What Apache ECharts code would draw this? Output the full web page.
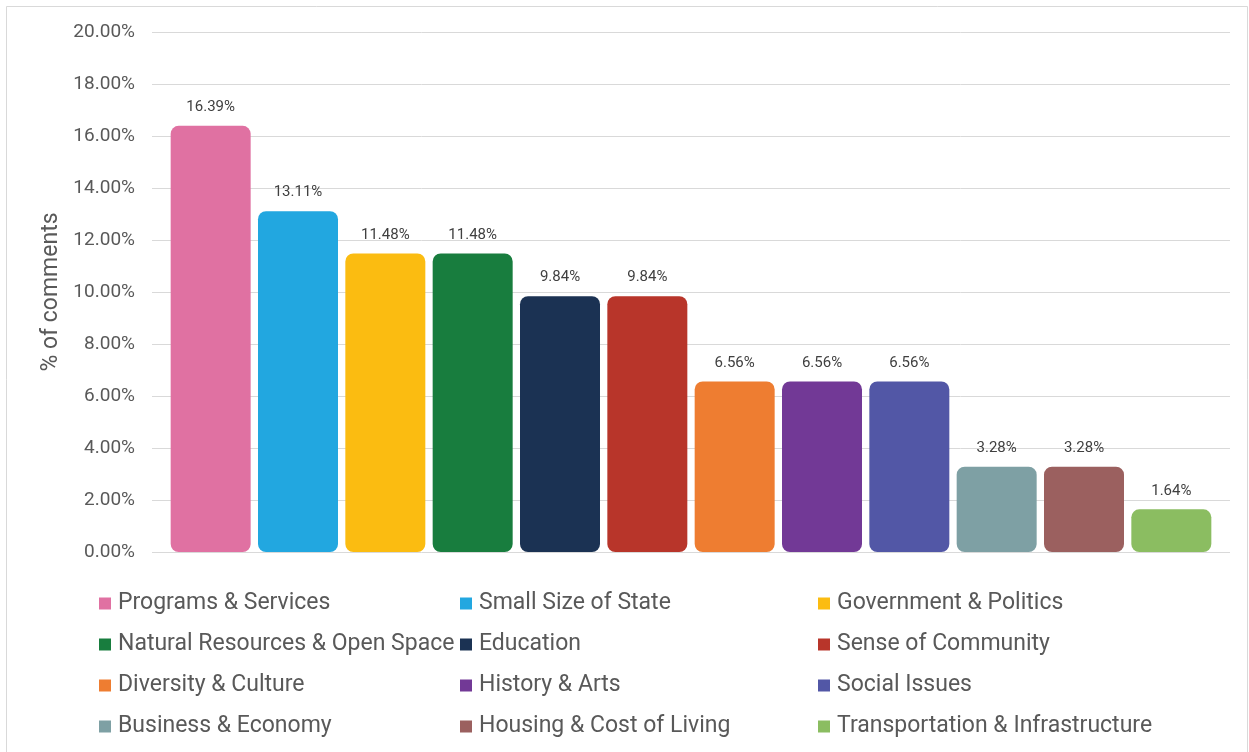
<!DOCTYPE html>
<html>
<head>
<meta charset="utf-8">
<script src="https://cdn.jsdelivr.net/npm/echarts@6/dist/echarts.min.js"></script>
<style>
  html, body { margin: 0; padding: 0; background: #ffffff; }
  #chart { width: 1249px; height: 752px; }
</style>
</head>
<body>
<div id="chart"></div>
<script>
// Share of comments by topic
const categories = [
  'Programs & Services', 'Small Size of State', 'Government & Politics',
  'Natural Resources & Open Space', 'Education', 'Sense of Community',
  'Diversity & Culture', 'History & Arts', 'Social Issues',
  'Business & Economy', 'Housing & Cost of Living', 'Transportation & Infrastructure'
];
const values = [16.39, 13.11, 11.48, 11.48, 9.84, 9.84, 6.56, 6.56, 6.56, 3.28, 3.28, 1.64];
const colors = [
  '#E071A2', '#22A7E0', '#FBBC11', '#187D3E', '#1B3253', '#B8352A',
  '#EE7D31', '#723996', '#5257A6', '#7EA0A4', '#9B605F', '#8BBD61'
];
const yTicks = { min: 0, max: 20, interval: 2 };
const axisTitle = '% of comments';

// legend columns (row-major order of the categories, three per row)
const legendCols = [0, 1, 2].map(c => categories.filter((_, i) => i % 3 === c));

const FONT = 'Roboto';
const chart = echarts.init(document.getElementById('chart'), null, { renderer: 'canvas' });

// one stacked series per topic so each bar gets its own legend entry
const series = categories.map((name, i) => ({
  name: name,
  type: 'bar',
  stack: 'all',
  xAxisIndex: 0,
  yAxisIndex: 0,
  barCategoryGap: '8.4%',
  data: values.map((v, j) => (j === i ? v : '-')),
  itemStyle: { color: colors[i], borderRadius: 8 },
  label: {
    show: true,
    position: 'top',
    distance: 11,
    color: '#404040',
    fontFamily: FONT,
    fontSize: 15,
    formatter: p => p.value.toFixed(2) + '%'
  }
}));

const legendLefts = [99, 460, 818];

chart.setOption({
  animation: false,
  backgroundColor: '#ffffff',
  graphic: [{
    type: 'rect',
    shape: { x: 6.5, y: 6.5, width: 1241, height: 770 },
    style: { fill: 'none', stroke: '#d9d9d9', lineWidth: 1 },
    z: -10
  }],
  grid: [
    { left: 167, right: 34, top: 32, bottom: 200 },
    { left: 152, right: 19, top: 32, bottom: 200 }
  ],
  xAxis: [
    {
      type: 'category', gridIndex: 0, data: categories,
      axisLine: { show: false }, axisTick: { show: false }, axisLabel: { show: false }
    },
    { type: 'value', gridIndex: 1, show: false, min: 0, max: 1 }
  ],
  yAxis: [
    {
      type: 'value', gridIndex: 0, min: yTicks.min, max: yTicks.max, interval: yTicks.interval,
      show: false, splitLine: { show: false }
    },
    {
      type: 'value', gridIndex: 1, min: yTicks.min, max: yTicks.max, interval: yTicks.interval,
      axisLine: { show: false }, axisTick: { show: false },
      splitLine: { lineStyle: { color: '#d9d9d9', width: 1 } },
      axisLabel: {
        margin: 17, color: '#595959', fontFamily: FONT, fontSize: 19,
        formatter: v => v.toFixed(2) + '%'
      },
      name: axisTitle,
      nameLocation: 'middle',
      nameRotate: 90,
      nameGap: 84,
      nameTextStyle: { color: '#595959', fontFamily: FONT, fontSize: 23 }
    }
  ],
  legend: legendCols.map((col, k) => ({
    orient: 'vertical',
    left: legendLefts[k],
    top: 592,
    padding: 0,
    data: col,
    icon: 'rect',
    itemWidth: 12,
    itemHeight: 12,
    itemGap: 18,
    textStyle: { color: '#595959', fontFamily: FONT, fontSize: 23, lineHeight: 23, padding: [0, 0, 0, 2] },
    selectedMode: false
  })),
  series: series
});
</script>
</body>
</html>
